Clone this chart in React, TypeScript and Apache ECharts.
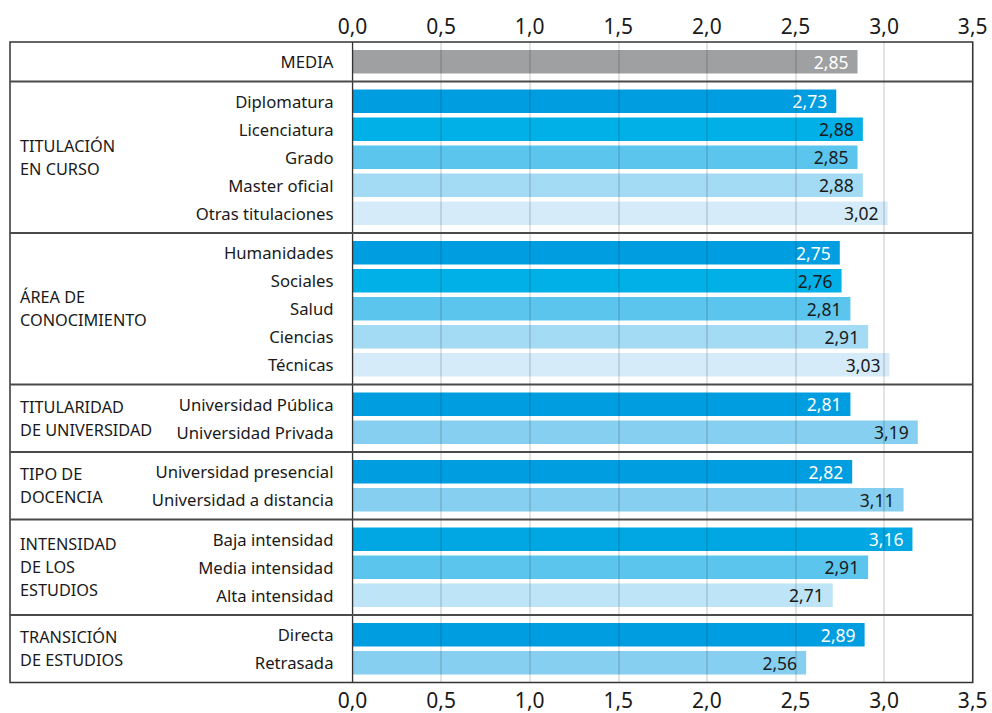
import React, { useEffect, useRef } from "react";
import * as echarts from "echarts";

// ---- data ----
const mediaCats = ["MEDIA"];
const mediaValues = [2.85];
const titulacionCats = ["Diplomatura", "Licenciatura", "Grado", "Master oficial", "Otras titulaciones"];
const titulacionValues = [2.73, 2.88, 2.85, 2.88, 3.02];
const areaCats = ["Humanidades", "Sociales", "Salud", "Ciencias", "Técnicas"];
const areaValues = [2.75, 2.76, 2.81, 2.91, 3.03];
const titularidadCats = ["Universidad Pública", "Universidad Privada"];
const titularidadValues = [2.81, 3.19];
const docenciaCats = ["Universidad presencial", "Universidad a distancia"];
const docenciaValues = [2.82, 3.11];
const intensidadCats = ["Baja intensidad", "Media intensidad", "Alta intensidad"];
const intensidadValues = [3.16, 2.91, 2.71];
const transicionCats = ["Directa", "Retrasada"];
const transicionValues = [2.89, 2.56];
const groupTitles = [
  "",
  "TITULACIÓN\nEN CURSO",
  "ÁREA DE\nCONOCIMIENTO",
  "TITULARIDAD\nDE UNIVERSIDAD",
  "TIPO DE\nDOCENCIA",
  "INTENSIDAD\nDE LOS\nESTUDIOS",
  "TRANSICIÓN\nDE ESTUDIOS",
];
const axisMin = 0;
const axisMax = 3.5;
const axisStep = 0.5;

// ---- styles ----
const DARK = "#1a1a1a";
const W = "#ffffff";
const palettes = [
  { colors: ["#9fa0a2"], labels: [W] },
  { colors: ["#009ee0", "#00b0e6", "#5bc5ee", "#a3daf4", "#d5ebf9"], labels: [W, DARK, DARK, DARK, DARK] },
  { colors: ["#009ee0", "#00b0e6", "#5bc5ee", "#a3daf4", "#d5ebf9"], labels: [W, DARK, DARK, DARK, DARK] },
  { colors: ["#009ee0", "#87cff0"], labels: [W, DARK] },
  { colors: ["#009ee0", "#87cff0"], labels: [W, DARK] },
  { colors: ["#00a7e3", "#5bc5ee", "#bee4f7"], labels: [W, DARK, DARK] },
  { colors: ["#009ee0", "#87cff0"], labels: [W, DARK] },
];

const FONT = "'Noto Sans', 'Open Sans', sans-serif";
const ROW = 28;
const PAD = 5.75;
const TOP = 42;
const LEFT = 352.5;
const RIGHT = 19.3;
const FRAME_L = 10;
const WIDTH = 992;
const HEIGHT = 713;

const fmt2 = (v: number) => v.toFixed(2).replace(".", ",");
const fmt1 = (v: number) => v.toFixed(1).replace(".", ",");

export default function App() {
  const ref = useRef<HTMLDivElement>(null);
  useEffect(() => {
    if (!ref.current) return;
    const chart = echarts.init(ref.current, null, { renderer: "svg" });

    const groups = [
      { cats: mediaCats, values: mediaValues },
      { cats: titulacionCats, values: titulacionValues },
      { cats: areaCats, values: areaValues },
      { cats: titularidadCats, values: titularidadValues },
      { cats: docenciaCats, values: docenciaValues },
      { cats: intensidadCats, values: intensidadValues },
      { cats: transicionCats, values: transicionValues },
    ];

    let y = TOP;
    const boxes = groups.map((g) => {
      const h = g.cats.length * ROW + 2 * PAD;
      const b = { top: y, height: h };
      y += h;
      return b;
    });
    const total = y - TOP;
    const frameR = WIDTH - RIGHT;

    const tickLabel = { fontSize: 21, color: DARK, fontFamily: FONT, formatter: fmt1 };
    const grids: any[] = [{ left: LEFT, right: RIGHT, top: TOP, height: total }];
    const xAxes: any[] = [
      {
        gridIndex: 0,
        type: "value",
        position: "top",
        min: axisMin,
        max: axisMax,
        interval: axisStep,
        z: 5,
        axisLine: { show: false },
        axisTick: { show: false },
        axisLabel: { ...tickLabel, margin: 6 },
        splitLine: { show: true, lineStyle: { color: "rgba(0,0,0,0.15)", width: 1.5 } },
      },
      {
        gridIndex: 0,
        type: "value",
        position: "bottom",
        min: axisMin,
        max: axisMax,
        interval: axisStep,
        axisLine: { show: false },
        axisTick: { show: false },
        axisLabel: { ...tickLabel, margin: 7 },
        splitLine: { show: false },
      },
    ];
    const yAxes: any[] = [{ gridIndex: 0, type: "value", show: false, min: 0, max: 1 }];
    const series: any[] = [];

    groups.forEach((g, i) => {
      const pal = palettes[i];
      grids.push({ left: LEFT, right: RIGHT, top: boxes[i].top + PAD, height: g.cats.length * ROW });
      xAxes.push({ gridIndex: i + 1, type: "value", min: axisMin, max: axisMax, show: false });
      yAxes.push({
        gridIndex: i + 1,
        type: "category",
        inverse: true,
        data: g.cats,
        axisLine: { show: false },
        axisTick: { show: false },
        splitLine: { show: false },
        axisLabel: { fontSize: 16.7, color: DARK, margin: 19, fontFamily: FONT },
      });
      series.push({
        type: "bar",
        xAxisIndex: i + 2,
        yAxisIndex: i + 1,
        barWidth: 23.5,
        data: g.values.map((v, j) => ({
          value: v,
          itemStyle: { color: pal.colors[j] },
          label: { color: pal.labels[j] },
        })),
        label: {
          show: true,
          position: "insideRight",
          distance: 9,
          fontSize: 17.5,
          fontFamily: FONT,
          formatter: (p: any) => fmt2(p.value),
        },
      });
    });

    const graphics: any[] = [];
    graphics.push({
      type: "rect",
      z: 100,
      shape: { x: FRAME_L, y: TOP, width: frameR - FRAME_L, height: total },
      style: { fill: "none", stroke: "#333", lineWidth: 1.5 },
    });
    graphics.push({
      type: "line",
      z: 100,
      shape: { x1: LEFT, y1: TOP, x2: LEFT, y2: TOP + total },
      style: { stroke: "#333", lineWidth: 1.2 },
    });
    boxes.forEach((b, i) => {
      if (i > 0) {
        graphics.push({
          type: "line",
          z: 100,
          shape: { x1: FRAME_L, y1: b.top, x2: frameR, y2: b.top },
          style: { stroke: "#4a4a4a", lineWidth: 1.8 },
        });
      }
      if (groupTitles[i]) {
        graphics.push({
          type: "text",
          z: 100,
          x: 20,
          y: b.top + b.height / 2,
          style: {
            text: groupTitles[i],
            fontSize: 16.3,
            lineHeight: 23,
            fontFamily: FONT,
            fill: DARK,
            align: "left",
            verticalAlign: "middle",
          },
        });
      }
    });

    chart.setOption({
      animation: false,
      backgroundColor: "#ffffff",
      textStyle: { fontFamily: FONT },
      grid: grids,
      xAxis: xAxes,
      yAxis: yAxes,
      series,
      graphic: graphics,
    });
    return () => chart.dispose();
  }, []);

  return (
    <div
      ref={ref}
      style={{ position: "fixed", left: 0, top: 0, width: WIDTH, height: HEIGHT, background: "#fff" }}
    />
  );
}
